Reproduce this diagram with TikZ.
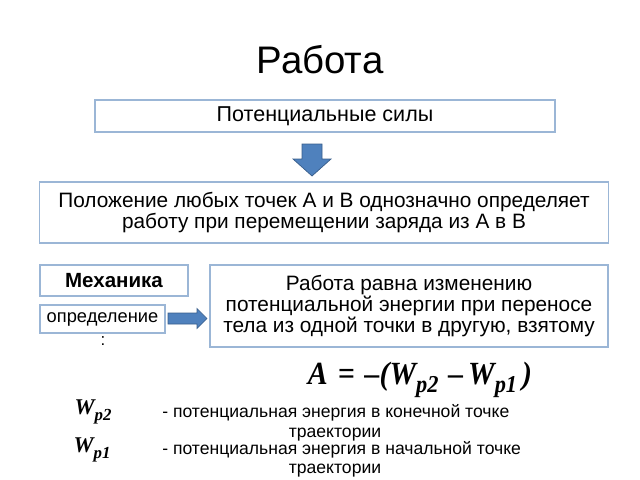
\documentclass[tikz,border=0pt]{standalone}
\usepackage{amsmath}
\usepackage{fontspec}
\setmainfont{Liberation Sans}
\newfontfamily\formfont{Liberation Serif}
\usepackage{tikz}
\usetikzlibrary{positioning}

\definecolor{boxline}{RGB}{155,182,214}
\definecolor{arrowfill}{RGB}{79,129,189}
\definecolor{arrowline}{RGB}{56,93,138}

\newcommand{\wsub}[1]{\raisebox{-0.55ex}{\fontsize{0.75em}{1em}\selectfont #1}}

\tikzset{
  infobox/.style={draw=boxline, line width=0.8pt, fill=white, align=center, inner sep=2pt},
  blockarrow/.style={fill=arrowfill, draw=arrowline, line width=0.5pt, line join=miter},
  formtext/.style={font=\formfont\bfseries\itshape},
}

\begin{document}
\begin{tikzpicture}[x=0.025cm, y=-0.025cm]
        \useasboundingbox (0,0) rectangle (640,480);
        % title
        \node (title) at (320,60) {\fontsize{27.3}{32}\selectfont Работа};
        % boxes
        \node[infobox, minimum width=11.5cm, minimum height=0.8cm] (pot) at (325,116)
          {\fontsize{15.3}{18}\selectfont Потенциальные силы};
        \node[infobox, minimum width=14.2cm, minimum height=1.525cm] (pos) at (324,212.5)
          {\fontsize{14.8}{19}\selectfont Положение любых точек А и В однозначно определяет\\
           \fontsize{14.8}{19}\selectfont работу при перемещении заряда из А в В};
        \node[infobox, minimum width=3.7cm, minimum height=0.775cm] (mech) at (114,280.5)
          {\fontsize{14.6}{17}\selectfont\bfseries Механика};
        \node[infobox, minimum width=3.125cm, minimum height=0.7cm] (defn) at (102.5,319)
          {\fontsize{13}{15}\selectfont определение};
        \node (colon) at (103,341) {\fontsize{12}{14}\selectfont :};
        \node[infobox, minimum width=9.95cm, minimum height=2.05cm] (work) at (409,306)
          {\fontsize{14.8}{18}\selectfont Работа равна изменению\\
           \fontsize{14.8}{18}\selectfont потенциальной энергии при переносе\\
           \fontsize{14.8}{18}\selectfont тела из одной точки в другую, взятому};
        % arrows
        \coordinate (dtail) at (312,144);
        \coordinate (dtip) at (312,176);
        \draw[blockarrow] (dtail) -- ++(-10,0) -- ++(0,15) -- ++(-9,0) -- (dtip)
          -- ++(19,-17) -- ++(-9,0) -- ++(0,-15) -- cycle;
        \coordinate (rtail) at (168,318.5);
        \coordinate (rtip) at (207,318.5);
        \draw[blockarrow] (rtail) -- ++(0,-5.5) -- ++(29,0) -- ++(0,-4.5) -- (rtip)
          -- ++(-10,10) -- ++(0,-4.5) -- ++(-29,0) -- cycle;
        % formula
        \node[formtext, transform shape, xscale=1.06, yscale=1.15] (formula) at (420,380)
          {\fontsize{20}{24}\selectfont A\,\,=\,\,–(W\wsub{p2}\,\,–\,W\wsub{p1}\,)};
        \node[formtext] (wp2) at (93,412) {\fontsize{16}{19}\selectfont W\wsub{p2}};
        \node[anchor=west, inner sep=0pt] (wp2txt) at (162,413)
          {\fontsize{12.5}{15}\selectfont - потенциальная энергия в конечной точке};
        \node (traj1) at (335,435) {\fontsize{12.5}{15}\selectfont траектории};
        \node[formtext] (wp1) at (92,450) {\fontsize{16}{19}\selectfont W\wsub{p1}};
        \node[anchor=west, inner sep=0pt] (wp1txt) at (162,450)
          {\fontsize{12.5}{15}\selectfont - потенциальная энергия в начальной точке};
        \node (traj2) at (335,471) {\fontsize{12.5}{15}\selectfont траектории};
\end{tikzpicture}
\end{document}
